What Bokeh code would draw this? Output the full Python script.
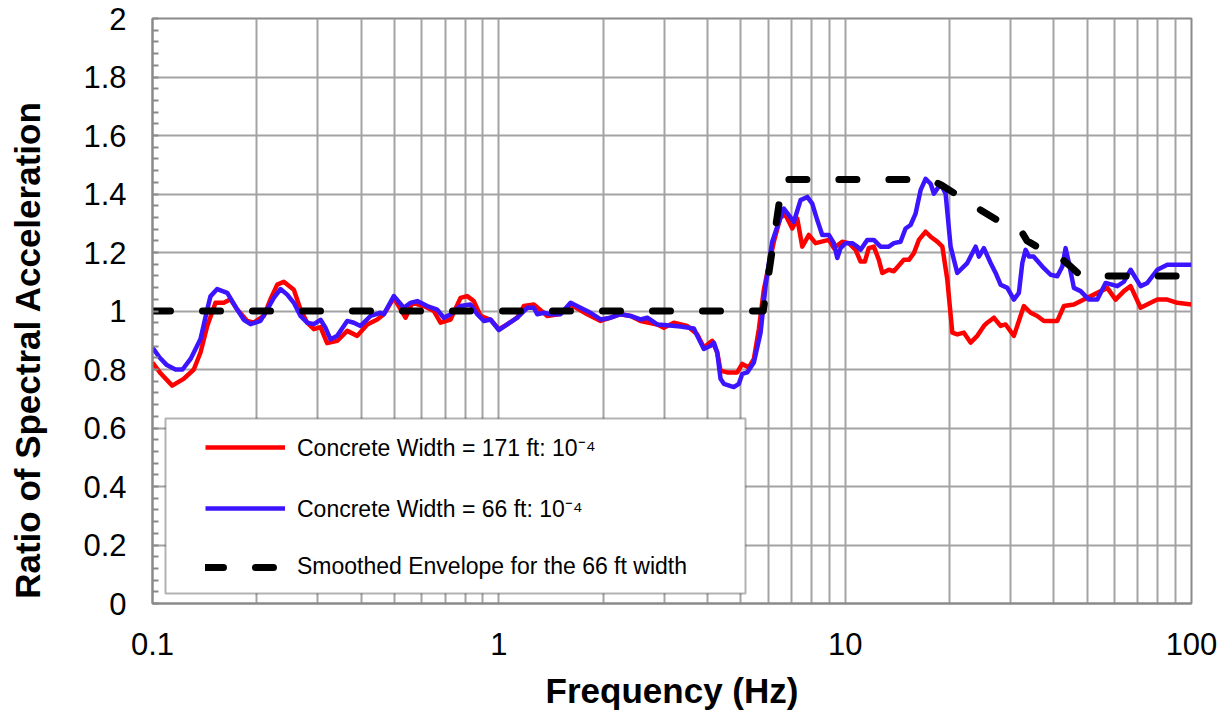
from bokeh.plotting import figure
from bokeh.models import (Legend, LegendItem, BoxAnnotation, FixedTicker,
                          SingleIntervalTicker, CustomJSTickFormatter, Range1d)
from bokeh.embed import file_html
from bokeh.resources import INLINE

# ---------------- data ----------------
red_f = [0.1, 0.105, 0.114, 0.123, 0.1316, 0.1376, 0.1439, 0.152, 0.1606, 0.168,
         0.1756, 0.1877, 0.1961, 0.2096, 0.2191, 0.2292, 0.2394, 0.2559, 0.2675, 0.2797,
         0.2923, 0.3056, 0.3193, 0.3414, 0.3649, 0.3901, 0.4169, 0.4456, 0.4655, 0.4974,
         0.5377, 0.5622, 0.6074, 0.649, 0.6786, 0.7254, 0.7751, 0.8103, 0.8466, 0.8855,
         0.9463, 1.0, 1.057, 1.13, 1.181, 1.262, 1.38, 1.5, 1.611, 1.8,
         1.967, 2.102, 2.246, 2.401, 2.566, 2.867, 2.996, 3.202, 3.499, 3.741,
         3.908, 4.132, 4.272, 4.367, 4.564, 4.878, 5.045, 5.271, 5.45, 5.634,
         5.824, 5.957, 6.223, 6.508, 6.728, 7.035, 7.273, 7.518, 7.856, 8.213,
         8.973, 9.277, 9.808, 10.25, 10.72, 11.08, 11.4, 11.7, 12.1, 12.51,
         12.8, 13.37, 13.82, 14.77, 15.28, 15.79, 16.32, 17.07, 17.65, 18.45,
         19.08, 19.72, 20.39, 21.07, 22.02, 23.02, 24.07, 25.15, 25.72, 26.88,
         28.1, 29.06, 30.71, 32.81, 34.31, 35.87, 37.49, 40.98, 42.82, 45.75,
         48.9, 53.46, 57.13, 60.38, 63.8, 66.7, 71.29, 76.19, 79.67, 85.13,
         91.0, 100]
red_v = [0.824, 0.79, 0.745, 0.768, 0.80, 0.858, 0.949, 1.028, 1.028, 1.04,
         1.005, 0.966, 0.96, 0.983, 1.04, 1.09, 1.10, 1.073, 1.005, 0.96,
         0.938, 0.945, 0.89, 0.898, 0.932, 0.915, 0.954, 0.971, 0.989, 1.045,
         0.977, 1.028, 1.017, 1.0, 0.96, 0.971, 1.045, 1.051, 1.034, 0.983,
         0.97, 0.938, 0.954, 0.977, 1.017, 1.022, 0.983, 0.99, 1.022, 0.989,
         0.966, 0.977, 0.989, 0.983, 0.966, 0.954, 0.943, 0.96, 0.949, 0.92,
         0.875, 0.898, 0.858, 0.796, 0.79, 0.79, 0.819, 0.807, 0.836, 0.938,
         1.073, 1.13, 1.237, 1.322, 1.328, 1.282, 1.316, 1.22, 1.26, 1.232,
         1.243, 1.215, 1.237, 1.232, 1.209, 1.169, 1.169, 1.215, 1.22, 1.175,
         1.13, 1.141, 1.136, 1.175, 1.175, 1.198, 1.243, 1.271, 1.254, 1.237,
         1.22, 1.107, 0.926, 0.92, 0.926, 0.892, 0.915, 0.949, 0.96, 0.977,
         0.949, 0.954, 0.915, 1.017, 0.994, 0.983, 0.966, 0.966, 1.017, 1.022,
         1.039, 1.062, 1.079, 1.039, 1.068, 1.085, 1.011, 1.028, 1.039, 1.039,
         1.028, 1.022]

blue_f = [0.1, 0.105, 0.11, 0.1165, 0.1221, 0.1288, 0.1376, 0.1439, 0.147, 0.1537,
          0.1644, 0.1756, 0.1835, 0.1919, 0.205, 0.2144, 0.224, 0.2342, 0.2449, 0.2559,
          0.2675, 0.2797, 0.2923, 0.3056, 0.3157, 0.3266, 0.3414, 0.3649, 0.3814, 0.3987,
          0.4261, 0.4554, 0.4655, 0.4974, 0.5316, 0.5559, 0.5811, 0.6213, 0.6639, 0.6936,
          0.7254, 0.7751, 0.8283, 0.8661, 0.9051, 0.9463, 1.0, 1.057, 1.13, 1.208,
          1.262, 1.291, 1.349, 1.41, 1.507, 1.611, 1.721, 1.84, 1.967, 2.102,
          2.246, 2.401, 2.566, 2.683, 2.867, 3.064, 3.347, 3.657, 3.741, 3.908,
          4.086, 4.177, 4.272, 4.367, 4.464, 4.769, 4.932, 5.045, 5.215, 5.45,
          5.698, 5.89, 6.05, 6.157, 6.365, 6.653, 7.111, 7.434, 7.772, 8.035,
          8.306, 8.588, 8.973, 9.277, 9.489, 9.699, 10.03, 10.48, 10.84, 11.08,
          11.58, 12.1, 12.65, 13.37, 13.82, 14.45, 14.94, 15.45, 15.97, 16.51,
          17.07, 17.65, 18.04, 18.86, 19.5, 20.16, 21.07, 22.52, 23.81, 24.33,
          25.15, 26.3, 27.19, 28.1, 29.39, 30.71, 31.74, 32.47, 33.19, 33.93,
          35.0, 37.09, 39.19, 40.98, 42.36, 43.3, 44.26, 45.75, 47.84, 50.55,
          53.46, 56.49, 61.07, 63.8, 66.7, 71.29, 74.55, 79.67, 85.13, 100]
blue_v = [0.875, 0.84, 0.815, 0.80, 0.80, 0.836, 0.904, 1.005, 1.05, 1.075,
          1.062, 1.005, 0.97, 0.955, 0.966, 1.005, 1.045, 1.075, 1.056, 1.028,
          0.983, 0.96, 0.955, 0.97, 0.943, 0.903, 0.915, 0.966, 0.96, 0.949,
          0.983, 0.994, 0.989, 1.051, 1.011, 1.028, 1.034, 1.017, 1.005, 0.977,
          0.989, 1.017, 1.022, 0.989, 0.966, 0.971, 0.935, 0.954, 0.977, 1.011,
          1.011, 0.989, 0.994, 0.989, 0.989, 1.028, 1.011, 0.994, 0.971, 0.977,
          0.989, 0.983, 0.971, 0.977, 0.954, 0.951, 0.947, 0.94, 0.915, 0.87,
          0.881, 0.892, 0.858, 0.768, 0.751, 0.74, 0.751, 0.785, 0.79, 0.824,
          0.926, 1.085, 1.18, 1.237, 1.288, 1.35, 1.305, 1.379, 1.39, 1.367,
          1.311, 1.26, 1.26, 1.232, 1.181, 1.215, 1.232, 1.232, 1.22, 1.209,
          1.243, 1.243, 1.22, 1.22, 1.232, 1.237, 1.282, 1.294, 1.333, 1.413,
          1.452, 1.435, 1.401, 1.435, 1.401, 1.22, 1.13, 1.164, 1.22, 1.186,
          1.215, 1.164, 1.13, 1.09, 1.079, 1.039, 1.062, 1.164, 1.209, 1.186,
          1.186, 1.152, 1.124, 1.119, 1.152, 1.215, 1.164, 1.079, 1.068, 1.039,
          1.039, 1.096, 1.085, 1.10, 1.141, 1.085, 1.096, 1.141, 1.158, 1.158]

env_f = [0.1, 5.8, 6.6, 17.5, 19.0, 21.5, 25.0, 28.5, 32.0, 33.5, 37.0, 42.0, 44.0, 48.0, 100]
env_v = [1.0, 1.0, 1.45, 1.45, 1.43, 1.39, 1.34, 1.30, 1.28, 1.24, 1.21, 1.18, 1.16, 1.12, 1.12]

x_ticks = [0.1, 1, 10, 100]
y_ticks = [0, 0.2, 0.4, 0.6, 0.8, 1, 1.2, 1.4, 1.6, 1.8, 2]

labels = ["Concrete Width = 171 ft: 10\u207b\u2074",
          "Concrete Width = 66 ft: 10\u207b\u2074",
          "Smoothed Envelope for the 66 ft width"]
x_title = "Frequency (Hz)"
y_title = "Ratio of  Spectral Acceleration"

# ---------------- layout ----------------
W, H = 1228, 712
ML, MR, MT, MB = 152, 37, 18, 109
FONT = "Liberation Sans"
GRID = "#A3A3A3"
AXIS = "#8A8A8A"

p = figure(width=W, height=H, x_axis_type="log",
           x_range=Range1d(x_ticks[0], x_ticks[-1]), y_range=Range1d(y_ticks[0], y_ticks[-1]),
           output_backend="svg", toolbar_location=None, title=None,
           min_border_left=ML, min_border_right=MR, min_border_top=MT, min_border_bottom=MB)
p.background_fill_color = "white"
p.border_fill_color = "white"
p.outline_line_color = AXIS
p.outline_line_width = 2

xa = p.xaxis[0]
xt = FixedTicker(ticks=x_ticks,
                 minor_ticks=[m * d for d in x_ticks[:-1] for m in range(2, 10)])
xa.ticker = xt
p.xgrid.ticker = xt
xa.formatter = CustomJSTickFormatter(code="return String(Number(tick.toPrecision(3)));")
xa.major_label_text_font = FONT
xa.major_label_text_font_size = "31px"
xa.major_label_text_color = "black"
xa.major_label_standoff = 29
xa.axis_label = x_title
xa.axis_label_text_font = FONT
xa.axis_label_text_font_style = "bold"
xa.axis_label_text_font_size = "35px"
xa.axis_label_text_color = "black"
xa.axis_label_standoff = 13
xa.major_tick_in = 0
xa.major_tick_out = 0
xa.minor_tick_in = 0
xa.minor_tick_out = 0
xa.axis_line_color = AXIS
xa.axis_line_width = 2

ya = p.yaxis[0]
yt = SingleIntervalTicker(interval=0.2, num_minor_ticks=5)
ya.ticker = yt
p.ygrid.ticker = yt
ya.formatter = CustomJSTickFormatter(code="return String(Number(tick.toFixed(2)));")
ya.major_label_text_font = FONT
ya.major_label_text_font_size = "31px"
ya.major_label_text_color = "black"
ya.major_label_standoff = 26
ya.major_tick_in = 0
ya.major_tick_out = 0
ya.minor_tick_in = 6
ya.minor_tick_out = 0
ya.minor_tick_line_color = AXIS
ya.minor_tick_line_width = 2
ya.axis_line_color = AXIS
ya.axis_line_width = 2
# the reference title sits below the frame centre: pad its top end with no-break spaces
ya.axis_label = y_title + "\u00a0" * 7
ya.axis_label_text_font = FONT
ya.axis_label_text_font_style = "bold"
ya.axis_label_text_font_size = "35px"
ya.axis_label_text_color = "black"
ya.axis_label_standoff = 33

p.xgrid.grid_line_color = GRID
p.xgrid.grid_line_width = 2
p.xgrid.minor_grid_line_color = GRID
p.xgrid.minor_grid_line_width = 2
p.ygrid.grid_line_color = GRID
p.ygrid.grid_line_width = 2

r_red = p.line(red_f, red_v, line_color="#FF0000", line_width=4.5, line_join="round")
r_blue = p.line(blue_f, blue_v, line_color="#3C14FF", line_width=4.5, line_join="round")
r_env = p.line(env_f, env_v, line_color="black", line_width=7, line_dash="18 32",
               line_cap="round", line_join="round")

# legend box (white, black border), positioned in frame pixels
frame_w = W - ML - MR
frame_h = H - MT - MB
px_dec = frame_w / 3.0
py_unit = frame_h / 2.0
box = BoxAnnotation(left=10 ** (-1 + 13 / px_dec), right=10 ** (-1 + 593 / px_dec),
                    bottom=10 / py_unit, top=185 / py_unit,
                    fill_color="white", fill_alpha=1.0, line_color="black", line_width=2)
p.add_layout(box)

legend = Legend(items=[LegendItem(label=labels[0], renderers=[r_red]),
                       LegendItem(label=labels[1], renderers=[r_blue]),
                       LegendItem(label=labels[2], renderers=[r_env])],
                location=(53, 23), padding=0, margin=0, spacing=29,
                glyph_width=80, glyph_height=24, label_height=24, label_standoff=12,
                label_text_font=FONT, label_text_font_size="23px", label_text_color="black",
                border_line_alpha=0, background_fill_alpha=0)
p.add_layout(legend)

open("out.html", "w").write(file_html(p, INLINE))
